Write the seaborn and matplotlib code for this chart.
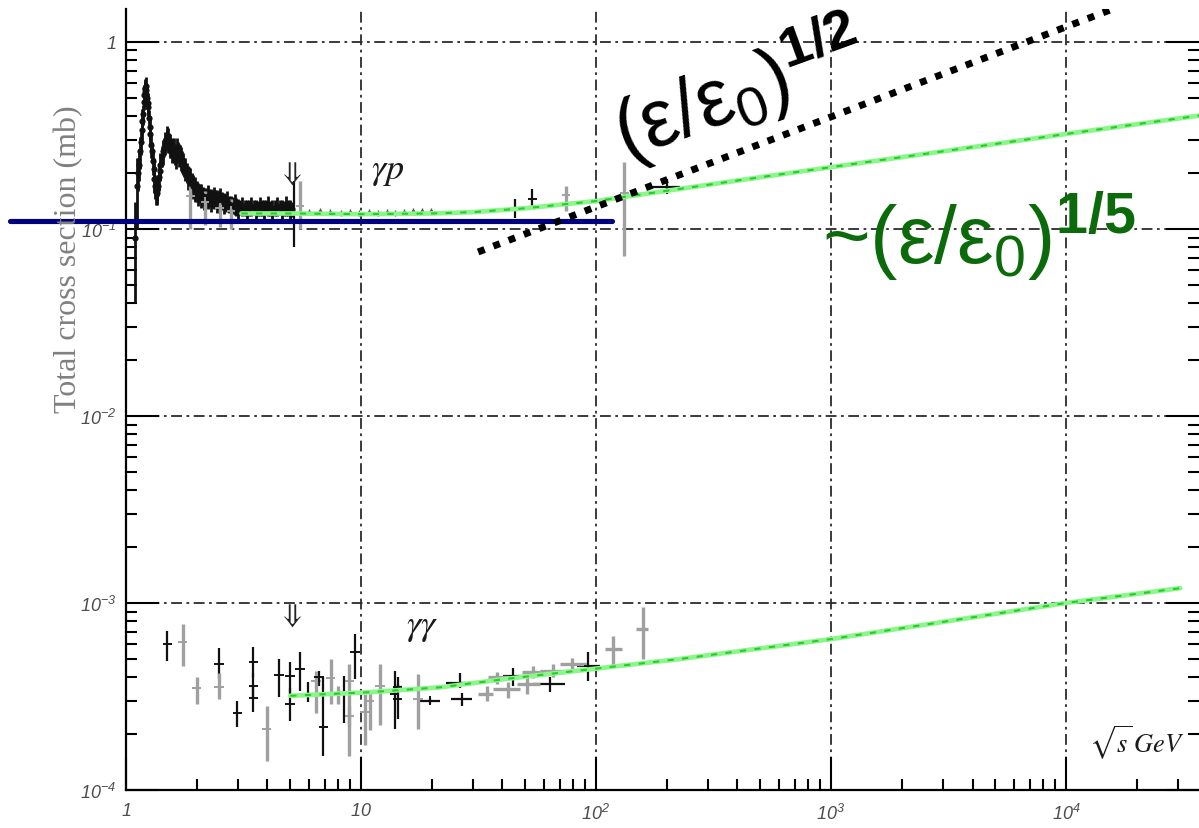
import numpy as np
import pandas as pd
import matplotlib
matplotlib.use("Agg")
import matplotlib.pyplot as plt
from matplotlib.ticker import LogLocator, NullFormatter
import seaborn as sns

# ---------------- data ----------------
# gamma-p total cross section, resonance region and low energies (sqrt(s) in GeV, sigma in mb)
gp_x = [1.09, 1.11, 1.14, 1.16, 1.17, 1.18, 1.19, 1.20, 1.21, 1.22, 1.23, 1.24, 1.25,
        1.27, 1.29, 1.31, 1.33, 1.35, 1.37, 1.39,
        1.42, 1.45, 1.48, 1.50, 1.52, 1.55, 1.58, 1.61, 1.64, 1.67, 1.70, 1.73, 1.77,
        1.81, 1.85, 1.90, 1.95, 2.00, 2.06, 2.12, 2.19, 2.26, 2.33, 2.40, 2.48, 2.56, 2.65, 2.74, 2.84, 2.95,
        3.05, 3.20, 3.35, 3.50, 3.65, 3.80, 3.95, 4.10, 4.30, 4.50, 4.70, 4.90, 5.10]
gp_y = [0.090, 0.170, 0.22, 0.29, 0.34, 0.41, 0.48, 0.54, 0.57, 0.55, 0.50, 0.45, 0.39,
        0.32, 0.26, 0.21, 0.17, 0.155, 0.17, 0.205,
        0.245, 0.275, 0.295, 0.305, 0.29, 0.27, 0.26, 0.25, 0.255, 0.26, 0.25, 0.23, 0.215,
        0.20, 0.19, 0.178, 0.168, 0.160, 0.155, 0.150, 0.148, 0.147, 0.146, 0.145, 0.144, 0.142, 0.139, 0.136, 0.134, 0.132,
        0.131, 0.130, 0.130, 0.131, 0.129, 0.130, 0.131, 0.129, 0.130, 0.131, 0.129, 0.130, 0.128]
gp_dy = [0.05, 0.07, 0.04, 0.04, 0.04, 0.05, 0.05, 0.05, 0.05, 0.05, 0.05, 0.05, 0.04,
         0.04, 0.03, 0.03, 0.025, 0.02, 0.02, 0.025,
         0.03, 0.03, 0.03, 0.035, 0.035, 0.03, 0.03, 0.03, 0.03, 0.03, 0.03, 0.03, 0.025,
         0.025, 0.025, 0.02, 0.02, 0.02, 0.018, 0.018, 0.018, 0.016, 0.016, 0.016, 0.016, 0.015, 0.015, 0.014, 0.014, 0.014,
         0.012, 0.012, 0.012, 0.012, 0.012, 0.012, 0.012, 0.012, 0.012, 0.012, 0.012, 0.012, 0.012]

# gamma-p: second resonance-region data set
gpb_x = [1.13, 1.15, 1.175, 1.195, 1.205, 1.215, 1.235, 1.26, 1.28, 1.30,
         1.32, 1.34, 1.36, 1.38, 1.40, 1.435, 1.465, 1.49, 1.51, 1.535,
         1.565, 1.595, 1.625, 1.655, 1.685, 1.715, 1.75, 1.79, 1.83, 1.875,
         1.925, 1.975, 2.03, 2.09, 2.155, 2.225, 2.295, 2.365, 2.44, 2.52,
         2.60, 2.70, 2.79, 2.90, 3.00, 3.12, 3.27, 3.42, 3.57, 3.72,
         3.87, 4.02, 4.20, 4.40, 4.60, 4.80, 5.00]
gpb_y = [0.20, 0.26, 0.38, 0.52, 0.56, 0.58, 0.47, 0.35, 0.28, 0.23,
         0.185, 0.16, 0.165, 0.19, 0.22, 0.26, 0.29, 0.31, 0.30, 0.28,
         0.265, 0.265, 0.245, 0.265, 0.25, 0.24, 0.225, 0.21, 0.19, 0.185,
         0.17, 0.165, 0.155, 0.152, 0.146, 0.150, 0.143, 0.148, 0.141, 0.146,
         0.138, 0.141, 0.133, 0.136, 0.129, 0.133, 0.127, 0.133, 0.128, 0.133,
         0.127, 0.134, 0.128, 0.133, 0.127, 0.134, 0.128]
gpb_dy = [0.04, 0.05, 0.06, 0.07, 0.07, 0.07, 0.06, 0.05, 0.04, 0.035,
          0.03, 0.025, 0.025, 0.03, 0.035, 0.04, 0.04, 0.045, 0.045, 0.04,
          0.04, 0.04, 0.035, 0.04, 0.035, 0.035, 0.03, 0.03, 0.028, 0.028,
          0.025, 0.025, 0.022, 0.022, 0.02, 0.022, 0.02, 0.02, 0.02, 0.02,
          0.018, 0.018, 0.017, 0.017, 0.016, 0.016, 0.015, 0.016, 0.015, 0.016,
          0.015, 0.016, 0.015, 0.016, 0.015, 0.016, 0.015]

# gamma-p: single measurements with their own error bars
gps_x = [1.88, 2.17, 2.50, 2.80, 5.20, 5.50, 45.2, 53.6, 74.5, 132.0, 200.0]
gps_y = [0.150, 0.140, 0.130, 0.125, 0.120, 0.133, 0.128, 0.145, 0.151, 0.155, 0.168]
gps_lo = [0.100, 0.105, 0.102, 0.100, 0.080, 0.100, 0.115, 0.131, 0.125, 0.072, 0.154]
gps_hi = [0.170, 0.160, 0.150, 0.145, 0.180, 0.180, 0.144, 0.164, 0.170, 0.228, 0.185]
gps_xlo = [np.nan] * 10 + [168.0]
gps_xhi = [np.nan] * 10 + [228.0]
gps_exp = ["B", "B", "B", "B", "A", "B", "A", "A", "B", "B", "A"]

# gamma-p: intermediate energies
gpm_x = [6.0, 6.7, 7.4, 8.2, 9.0, 9.8, 10.8, 11.8, 12.9, 14.0, 15.3, 16.7, 18.2, 19.8]
gpm_y = [0.123, 0.124, 0.123, 0.122, 0.123, 0.122, 0.123, 0.122, 0.123, 0.122, 0.123, 0.124, 0.124, 0.125]

# gamma-gamma total cross section
gg_x = [1.50, 1.74, 2.00, 2.49, 2.49, 2.98, 3.48, 3.48, 3.48, 3.97,
        4.48, 4.99, 4.99, 5.50, 5.97, 6.43, 6.62, 6.91, 7.43, 8.00,
        8.47, 8.92, 8.92, 9.43, 10.4, 10.9, 12.05, 13.9, 14.3, 14.3,
        17.5, 19.7, 26.5, 26.8, 34.3, 37.8, 42.4, 44.5, 50.7, 54.1,
        63.7, 65.8, 78.8, 92.7, 118.5, 158.0]
gg_y = [6.0e-4, 6.2e-4, 3.5e-4, 4.7e-4, 3.55e-4, 2.58e-4, 4.82e-4, 3.61e-4, 3.1e-4, 2.12e-4,
        4.12e-4, 4.06e-4, 2.88e-4, 4.44e-4, 3.26e-4, 3.85e-4, 4.02e-4, 2.17e-4, 3.96e-4, 3.26e-4,
        3.26e-4, 3.85e-4, 2.5e-4, 5.44e-4, 2.6e-4, 3.0e-4, 3.61e-4, 3.26e-4, 3.55e-4, 3.07e-4,
        3.07e-4, 3.0e-4, 3.75e-4, 3.07e-4, 3.26e-4, 4.0e-4, 3.45e-4, 4.09e-4, 3.69e-4, 4.26e-4,
        3.7e-4, 4.35e-4, 4.72e-4, 4.62e-4, 5.67e-4, 7.26e-4]
gg_lo = [4.9e-4, 4.6e-4, 2.9e-4, 3.9e-4, 3.07e-4, 2.17e-4, 4.0e-4, 3.1e-4, 2.6e-4, 1.43e-4,
         3.14e-4, 3.3e-4, 2.35e-4, 3.39e-4, 2.96e-4, 2.58e-4, 3.6e-4, 1.52e-4, 2.88e-4, 2.88e-4,
         2.27e-4, 1.52e-4, 2.2e-4, 3.93e-4, 1.73e-4, 2.1e-4, 2.23e-4, 2.12e-4, 3.4e-4, 2.4e-4,
         2.12e-4, 2.9e-4, 3.5e-4, 2.8e-4, 3.0e-4, 3.7e-4, 3.1e-4, 3.6e-4, 3.25e-4, 3.95e-4,
         3.35e-4, 4.0e-4, 4.4e-4, 3.85e-4, 4.62e-4, 5.0e-4]
gg_hi = [7.1e-4, 7.7e-4, 4.0e-4, 5.75e-4, 4.2e-4, 2.99e-4, 5.8e-4, 4.2e-4, 3.6e-4, 2.8e-4,
         5.0e-4, 4.85e-4, 3.5e-4, 5.47e-4, 3.78e-4, 4.35e-4, 4.35e-4, 4.02e-4, 5.0e-4, 3.61e-4,
         4.09e-4, 4.72e-4, 2.8e-4, 6.8e-4, 3.26e-4, 3.3e-4, 4.72e-4, 4.35e-4, 3.7e-4, 4.02e-4,
         4.16e-4, 3.1e-4, 4.2e-4, 3.3e-4, 3.6e-4, 4.3e-4, 3.8e-4, 4.5e-4, 4.1e-4, 4.6e-4,
         4.0e-4, 4.7e-4, 5.1e-4, 5.44e-4, 6.68e-4, 9.5e-4]
gg_xlo = [np.nan] * 28 + [13.9, np.nan, np.nan, 17.8, 23.0, 24.2, 31.4, 34.8, 36.6, 40.2,
                          46.0, 48.3, 54.2, 57.6, 70.2, 82.7, 109.0, 148.0]
gg_xhi = [np.nan] * 28 + [14.9, np.nan, np.nan, 21.7, 30.0, 29.6, 36.6, 43.7, 47.5, 50.6,
                          57.6, 60.6, 73.7, 77.5, 91.4, 104.0, 128.6, 167.0]
gg_exp = ["A", "B", "B", "A", "B", "A", "A", "A", "A", "B",
          "A", "A", "A", "A", "A", "B", "A", "A", "B", "B",
          "A", "B", "B", "A", "B", "B", "B", "A", "A", "A",
          "B", "A", "A", "A", "B", "B", "B", "A", "B", "B",
          "A", "B", "B", "A", "B", "B"]

# model curves
gp_fit_x = [3.1, 5.0, 10.0, 20.0, 30.0, 50.0, 100.0, 200.0, 500.0, 1000.0, 1.0e4, 3.7e4]
gp_fit_y = [0.121, 0.121, 0.120, 0.121, 0.123, 0.129, 0.141, 0.160, 0.189, 0.214, 0.322, 0.404]
gg_fit_x = [5.0, 10.7, 21.7, 41.7, 97.4, 228.0, 1000.0, 1.0e4, 3.06e4]
gg_fit_y = [3.19e-4, 3.33e-4, 3.54e-4, 3.93e-4, 4.44e-4, 5.02e-4, 6.41e-4, 1.0e-3, 1.2e-3]

# constant level and the square-root growth guide
flat_x = [0.32, 117.0]
flat_y = [0.1104, 0.1104]
sqrt_x = [31.5, 1.58e4]
sqrt_y = [0.0753, 1.50]

x_ticks = [1, 10, 100, 1000, 10000]
x_labels = [r"$1$", r"$10$", r"$10^{2}$", r"$10^{3}$", r"$10^{4}$"]
y_ticks = [1e-4, 1e-3, 1e-2, 1e-1, 1]
y_labels = [r"$10^{-4}$", r"$10^{-3}$", r"$10^{-2}$", r"$10^{-1}$", r"$1$"]

# ---------------- style ----------------
sns.set_theme(style="ticks")
plt.rcParams["font.family"] = ["Liberation Sans", "DejaVu Sans"]
plt.rcParams["mathtext.fontset"] = "custom"
plt.rcParams["mathtext.rm"] = "Liberation Sans"
plt.rcParams["mathtext.it"] = "Liberation Sans:italic"
plt.rcParams["mathtext.bf"] = "Liberation Sans:bold"
plt.rcParams["mathtext.default"] = "regular"

BLACK = "#111111"
GREY = "#a0a0a0"
exp_colors = {"A": BLACK, "B": GREY}

fig = plt.figure(figsize=(11.99, 8.29), dpi=100)
W, H = 1199, 829
ax = fig.add_axes([126 / W, 38 / H, 1073 / W, 781 / H])
ax.set_xscale("log")
ax.set_yscale("log")

for side in ("top", "right"):
    ax.spines[side].set_visible(False)
for side in ("left", "bottom"):
    ax.spines[side].set_linewidth(1.6)
    ax.spines[side].set_color("black")


def draw_points(xs, ys, lo, hi, xlo, xhi, groups, size, elw, marker):
    df = pd.DataFrame({"x": xs, "y": ys, "lo": lo, "hi": hi, "xlo": xlo, "xhi": xhi, "exp": groups})
    for g, sub in df.groupby("exp"):
        c = exp_colors[g]
        w = elw if g == "A" else elw * 1.5
        ax.vlines(sub["x"], sub["lo"], sub["hi"], colors=c, linewidth=w, zorder=3)
        hb = sub.dropna(subset=["xlo"])
        if len(hb):
            ax.hlines(hb["y"], hb["xlo"], hb["xhi"], colors=c, linewidth=w, zorder=3)
    sns.scatterplot(data=df, x="x", y="y", hue="exp", palette=exp_colors, marker=marker,
                    s=size, linewidth=1.4, legend=False, ax=ax, zorder=4)


# gamma-p dense resonance data (two data sets)
for xs, ys, dys in ((gp_x, gp_y, gp_dy), (gpb_x, gpb_y, gpb_dy)):
    lo = [y - d for y, d in zip(ys, dys)]
    hi = [y + d for y, d in zip(ys, dys)]
    ax.vlines(xs, lo, hi, colors=BLACK, linewidth=2.0, zorder=3)
    sns.scatterplot(x=xs, y=ys, color=BLACK, s=20, linewidth=0, ax=ax, zorder=4)
ax.vlines(gpm_x, [v * 0.965 for v in gpm_y], [v * 1.04 for v in gpm_y], colors="#555555", linewidth=1.0, zorder=3)
sns.scatterplot(x=gpm_x, y=gpm_y, color="#555555", s=6, linewidth=0, ax=ax, zorder=4)
draw_points(gps_x, gps_y, gps_lo, gps_hi, gps_xlo, gps_xhi, gps_exp, 40, 1.6, "+")

# gamma-gamma data
draw_points(gg_x, gg_y, gg_lo, gg_hi, gg_xlo, gg_xhi, gg_exp, 45, 1.6, "+")

# model curves: light green band with a darker dashed core
for fx, fy in ((gp_fit_x, gp_fit_y), (gg_fit_x, gg_fit_y)):
    sns.lineplot(x=fx, y=fy, color="#8ef58e", linewidth=3.4, estimator=None, sort=False, ax=ax, zorder=5)
    sns.lineplot(x=fx, y=fy, color="#22cf22", linewidth=1.5, linestyle=(0, (3, 4)),
                 estimator=None, sort=False, ax=ax, zorder=5)

# constant cross-section level
sns.lineplot(x=flat_x, y=flat_y, color="#000080", linewidth=3.7, estimator=None, ax=ax, zorder=6)
ax.lines[-1].set_clip_on(False)

# square-root growth guide
sns.lineplot(x=sqrt_x, y=sqrt_y, color="black", linewidth=5.0, linestyle=(0, (1, 1.35)),
             estimator=None, ax=ax, zorder=6)
ax.lines[-1].set_dash_capstyle("butt")

# axes: log decades, inward ticks, dash-dot grid
ax.set_xlabel("")
ax.set_ylabel("")
ax.set_xticks(x_ticks, labels=x_labels, fontstyle="italic", fontsize=13, color="#4d4d4d")
ax.set_yticks(y_ticks, labels=y_labels, fontstyle="italic", fontsize=13, color="#4d4d4d")
ax.xaxis.set_minor_locator(LogLocator(base=10, subs=np.arange(2, 10), numticks=20))
ax.yaxis.set_minor_locator(LogLocator(base=10, subs=np.arange(2, 10), numticks=20))
ax.xaxis.set_minor_formatter(NullFormatter())
ax.yaxis.set_minor_formatter(NullFormatter())
ax.set_xlim(1, 3.68e4)
ax.set_ylim(1e-4, 1.5)
ax.tick_params(which="major", direction="in", length=24, width=1.5, color="black",
               top=False, right=True)
ax.tick_params(axis="x", which="major", pad=9)
ax.tick_params(axis="y", which="major", pad=7)
ax.tick_params(which="minor", direction="in", length=8, width=1.5, color="black",
               top=False, right=True)
ax.grid(which="major", color="#2b2b2b", linestyle=(0, (6, 2.5, 1.5, 2.5)), linewidth=1.3)
ax.set_axisbelow(True)

# labels inside the frame
ax.text(5.0, 0.20, r"$\Downarrow$", math_fontfamily="stix", fontsize=20, color="#222222",
        ha="center", va="center", zorder=7)
ax.text(5.0, 8.6e-4, r"$\Downarrow$", math_fontfamily="stix", fontsize=20, color="#222222",
        ha="center", va="center", zorder=7)
ax.text(13.0, 0.207, r"$\mathit{\gamma p}$", math_fontfamily="stix", fontsize=26, color="#1a1a1a",
        ha="center", va="center", zorder=7)
ax.text(18.3, 7.6e-4, r"$\mathit{\gamma\gamma}$", math_fontfamily="stix", fontsize=26, color="#1a1a1a",
        ha="center", va="center", zorder=7)
ax.text(1.99e4, 1.8e-4, r"$\sqrt{\mathit{s}}\,\mathit{GeV}$", math_fontfamily="stix", fontsize=19,
        color="#1a1a1a", ha="center", va="center", zorder=7)

fig.text(69 / W, 1 - 259 / H, "Total cross section (mb)", rotation=90, ha="center", va="center",
         fontfamily="Liberation Serif", fontsize=23, color="#808080")

# power-law annotations
fig.text(626 / W, 1 - 160 / H, r"$(ε/ε_0)^{\mathbf{1/2}}$", rotation=20, rotation_mode="anchor",
         ha="left", va="baseline", fontsize=58, color="black", zorder=8)
fig.text(822 / W, 1 - 263 / H, r"~$(ε/ε_0)^{\mathbf{1/5}}$", ha="left", va="baseline",
         fontsize=59, color="#0b6b0b", zorder=8)

fig.savefig("out.png", dpi=100)
